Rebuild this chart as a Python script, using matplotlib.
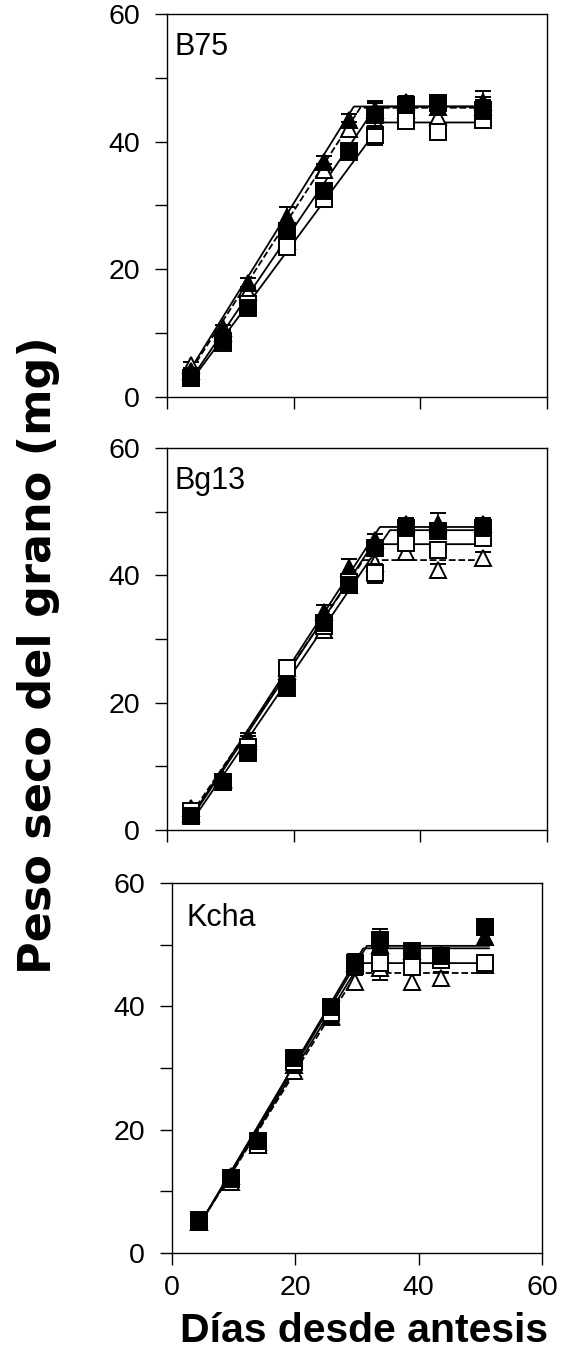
import matplotlib
matplotlib.use("Agg")
import matplotlib.pyplot as plt
import numpy as np

plt.rcParams['font.family'] = ['Liberation Sans', 'DejaVu Sans']

# ---- data ----
panel_names = ["B75", "Bg13", "Kcha"]

days_b75 = [3.8, 8.8, 12.8, 18.9, 24.8, 28.8, 32.8, 37.8, 42.8, 49.9]
days_bg13 = [3.8, 8.8, 12.8, 18.9, 24.8, 28.8, 32.8, 37.8, 42.8, 49.9]
days_kcha = [4.4, 9.6, 13.9, 19.8, 25.8, 29.7, 33.7, 38.9, 43.7, 50.8]

# series order: open triangle, filled triangle, open square, filled square
b75_ot = [5.0, 10.0, 16.5, 24.5, 35.5, 42.0, 44.5, 45.0, 43.8, 45.5]
b75_ft = [4.0, 10.8, 17.8, 28.2, 36.8, 43.4, 45.0, 46.2, 45.5, 46.2]
b75_os = [3.0, 8.5, 14.5, 23.5, 31.0, 38.5, 41.0, 43.2, 41.5, 43.4]
b75_fs = [3.0, 8.7, 13.9, 26.0, 32.3, 38.4, 44.2, 45.7, 46.0, 45.0]

bg13_ot = [3.5, 7.8, 14.5, 25.5, 31.4, 38.5, 42.0, 43.7, 40.8, 42.7]
bg13_ft = [2.5, 8.0, 14.0, 25.0, 34.3, 41.2, 45.5, 48.0, 48.0, 48.0]
bg13_os = [3.0, 7.5, 13.0, 25.4, 32.0, 39.0, 40.3, 45.1, 44.0, 45.9]
bg13_fs = [2.2, 7.6, 12.1, 22.3, 32.5, 38.5, 44.3, 47.4, 46.9, 47.4]

kcha_ot = [5.0, 11.5, 17.5, 29.5, 38.3, 44.0, 46.2, 44.0, 44.6, 46.7]
kcha_ft = [5.0, 12.5, 18.0, 30.5, 38.5, 47.0, 50.0, 49.0, 48.5, 51.3]
kcha_os = [5.2, 12.0, 17.5, 31.0, 38.9, 46.5, 47.0, 46.4, 47.5, 47.0]
kcha_fs = [5.4, 12.2, 18.1, 31.6, 39.9, 47.0, 50.8, 48.9, 48.1, 52.9]

# standard errors
b75_err = [[0.5, 0.5, 0.8, 1.0, 1.0, 1.0, 1.5, 1.5, 2.2, 1.5],
           [0.5, 0.5, 0.8, 1.5, 1.0, 1.0, 1.0, 1.0, 1.0, 1.8],
           [0.5, 0.5, 0.8, 1.0, 1.0, 1.0, 1.5, 1.0, 1.2, 1.0],
           [0.5, 0.5, 0.8, 1.0, 1.0, 1.0, 2.2, 1.0, 1.0, 1.5]]
bg13_err = [[0.5, 0.5, 0.8, 1.0, 1.0, 1.0, 1.0, 1.0, 1.0, 1.0],
            [0.5, 0.5, 0.8, 1.0, 1.0, 1.3, 1.0, 1.0, 1.8, 1.0],
            [0.5, 0.5, 0.8, 1.0, 1.0, 1.0, 1.5, 1.0, 1.0, 1.0],
            [0.5, 0.5, 0.8, 1.0, 1.0, 1.0, 1.0, 1.0, 1.0, 1.0]]
kcha_err = [[0.5, 0.5, 0.8, 1.0, 1.0, 1.0, 2.0, 1.0, 1.0, 1.0],
            [0.5, 0.5, 0.8, 1.0, 1.0, 1.5, 1.0, 1.0, 1.0, 1.0],
            [0.5, 0.5, 0.8, 1.0, 1.0, 1.5, 1.0, 1.0, 1.0, 1.0],
            [0.5, 0.5, 0.8, 1.0, 1.0, 1.5, 1.7, 1.0, 1.0, 1.3]]

# bilinear fits: y at first day, end of grain filling (days), final weight (mg)
b75_fit_y0 = [4.2, 4.5, 2.5, 2.8]
b75_fit_end = [30.5, 29.5, 34.0, 33.0]
b75_fit_max = [45.3, 45.5, 43.0, 45.5]

bg13_fit_y0 = [2.5, 2.0, 1.8, 1.2]
bg13_fit_end = [31.0, 33.6, 32.5, 35.2]
bg13_fit_max = [42.4, 47.6, 44.9, 47.1]

kcha_fit_y0 = [4.5, 4.5, 4.5, 4.5]
kcha_fit_end = [30.0, 31.0, 30.5, 31.6]
kcha_fit_max = [45.4, 49.4, 47.0, 49.8]

panels = [
    (days_b75, [b75_ot, b75_ft, b75_os, b75_fs], b75_err, b75_fit_y0, b75_fit_end, b75_fit_max),
    (days_bg13, [bg13_ot, bg13_ft, bg13_os, bg13_fs], bg13_err, bg13_fit_y0, bg13_fit_end, bg13_fit_max),
    (days_kcha, [kcha_ot, kcha_ft, kcha_os, kcha_fs], kcha_err, kcha_fit_y0, kcha_fit_end, kcha_fit_max),
]

markers = ['^', '^', 's', 's']
faces = ['white', 'black', 'white', 'black']
sizes = [11.5, 11.5, 12, 12]
line_styles = ['--', '-', '-', '-']

fig = plt.figure(figsize=(5.61, 13.54), dpi=100)
axes_pos = [[0.2977, 0.7068, 0.6774, 0.2829],
            [0.2977, 0.3870, 0.6774, 0.2821],
            [0.3066, 0.0746, 0.6595, 0.2733]]
label_pos = [(0.021, 0.952), (0.021, 0.952), (0.040, 0.945)]

for i, (days, series, errs, y0s, ends, maxs) in enumerate(panels):
    ax = fig.add_axes(axes_pos[i])
    days = np.array(days)
    xs = np.linspace(days[0], days[-1] + 0.6, 300)

    # fitted lines
    for k in range(4):
        slope = (maxs[k] - y0s[k]) / (ends[k] - days[0])
        ys = np.minimum(y0s[k] + slope * (xs - days[0]), maxs[k])
        ax.plot(xs, ys, color='black', lw=1.3, ls=line_styles[k], zorder=2)

    # observed data with error bars
    for k in range(4):
        ax.errorbar(days, series[k], yerr=errs[k], fmt=markers[k], ms=sizes[k],
                    mfc=faces[k], mec='black', mew=1.4, ecolor='black',
                    elinewidth=1.2, capsize=6, capthick=1.3, zorder=3 + k)

    ax.set_xlim(0, 60)
    ax.set_ylim(0, 60)
    ax.set_xticks([0, 20, 40, 60])
    ax.set_yticks(np.arange(0, 61, 10))
    ax.set_yticklabels(['0', '', '20', '', '40', '', '60'])
    ax.tick_params(direction='out', length=8.5, width=1, labelsize=20.5)
    ax.tick_params(axis='y', pad=11)
    ax.tick_params(axis='x', pad=7)
    if i < 2:
        ax.set_xticklabels([])
    for sp in ax.spines.values():
        sp.set_linewidth(1.0)
    ax.text(label_pos[i][0], label_pos[i][1], panel_names[i], transform=ax.transAxes,
            fontsize=22, va='top', ha='left')

fig.text(0.068, 0.516, 'Peso seco del grano (mg)', rotation=90,
         family=['DejaVu Sans'], fontsize=32, fontweight='bold',
         ha='center', va='center')
fig.text(0.648, 0.009, 'Días desde antesis', fontsize=29.5,
         fontweight='bold', ha='center', va='baseline')

fig.savefig('out.png', dpi=100)
